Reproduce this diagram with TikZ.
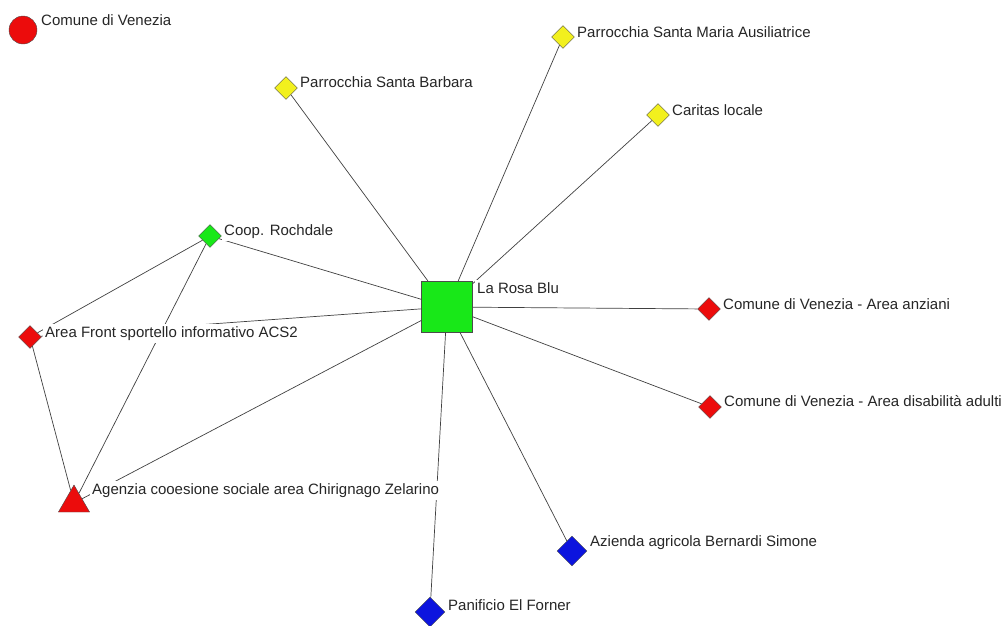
\documentclass[tikz,border=0pt]{standalone}
\usepackage{fontspec}
\setmainfont{Liberation Sans}
\usepackage{tikz}
\usetikzlibrary{shapes.geometric}
\usepackage{xcolor}
\definecolor{rossoND}{RGB}{236,12,12}
\definecolor{verdeND}{RGB}{24,232,24}
\definecolor{gialloND}{RGB}{242,240,30}
\definecolor{bluND}{RGB}{12,20,222}
\tikzset{
  rombo/.style = {diamond, draw = black!70, line width = 0.4pt, inner sep = 0pt, minimum size = 23pt},
  etichetta/.style = {anchor = west, fill = white, inner xsep = 2pt, inner ysep = 2.5pt, text height = 11pt, text depth = 3pt, font = \fontsize{15}{17}\selectfont, text = black!85},
  legame/.style = {-, line width = 0.7pt, draw = black!75}
}

\begin{document}
\begin{tikzpicture}[x = 1pt, y = -1pt]
\useasboundingbox (0, 0) rectangle (1003, 625) ;
\node(venezia) at (23, 30) [circle, draw = black!70, fill = rossoND, minimum size = 28pt, inner sep = 0pt] {} ; 
\node(barbara) at (286, 88) [rombo, fill = gialloND] {} ; 
\node(ausiliatrice) at (563, 37) [rombo, fill = gialloND] {} ; 
\node(caritas) at (658, 115) [rombo, fill = gialloND] {} ; 
\node(rochdale) at (210, 236) [rombo, fill = verdeND] {} ; 
\node(rosablu) at (447, 307) [rectangle, draw = black!70, fill = verdeND, minimum size = 51pt, inner sep = 0pt] {} ; 
\node(acs2) at (30, 337) [rombo, fill = rossoND] {} ; 
\node(agenzia) at (74, 503) [regular polygon, regular polygon sides = 3, draw = black!70, fill = rossoND, minimum size = 36pt, inner sep = 0pt] {} ; 
\node(anziani) at (709, 309) [rombo, fill = rossoND] {} ; 
\node(disabili) at (710, 407) [rombo, fill = rossoND] {} ; 
\node(bernardi) at (572, 551) [rombo, fill = bluND, minimum size = 30pt] {} ; 
\node(forner) at (430, 612) [rombo, fill = bluND, minimum size = 30pt] {} ; 
\draw[legame] (rosablu) to (barbara) ; 
\draw[legame] (rosablu) to (ausiliatrice) ; 
\draw[legame] (rosablu) to (caritas) ; 
\draw[legame] (rosablu) to (rochdale) ; 
\draw[legame] (rosablu) to (acs2) ; 
\draw[legame] (rosablu) to (agenzia) ; 
\draw[legame] (rosablu) to (anziani) ; 
\draw[legame] (rosablu) to (disabili) ; 
\draw[legame] (rosablu) to (bernardi) ; 
\draw[legame] (rosablu) to (forner) ; 
\draw[legame] (rochdale) to (acs2) ; 
\draw[legame] (rochdale) to (agenzia) ; 
\draw[legame] (acs2) to (agenzia) ; 
\node(veneziaL) at (39, 21) [etichetta] {Comune di Venezia} ; 
\node(barbaraL) at (298, 83) [etichetta] {Parrocchia Santa Barbara} ; 
\node(ausiliatriceL) at (575, 33) [etichetta] {Parrocchia Santa Maria Ausiliatrice} ; 
\node(caritasL) at (670, 111) [etichetta] {Caritas locale} ; 
\node(rochdaleL) at (222, 231) [etichetta] {Coop. Rochdale} ; 
\node(rosabluL) at (475, 289) [etichetta] {La Rosa Blu} ; 
\node(acs2L) at (43, 333) [etichetta] {Area Front sportello informativo ACS2} ; 
\node(agenziaL) at (90, 490) [etichetta] {Agenzia cooesione sociale area Chirignago Zelarino} ; 
\node(anzianiL) at (721, 305) [etichetta] {Comune di Venezia - Area anziani} ; 
\node(disabiliL) at (722, 402) [etichetta] {Comune di Venezia - Area disabilità adulti} ; 
\node(bernardiL) at (588, 542) [etichetta] {Azienda agricola Bernardi Simone} ; 
\node(fornerL) at (446, 606) [etichetta] {Panificio El Forner} ; 
\end{tikzpicture}
\end{document}
